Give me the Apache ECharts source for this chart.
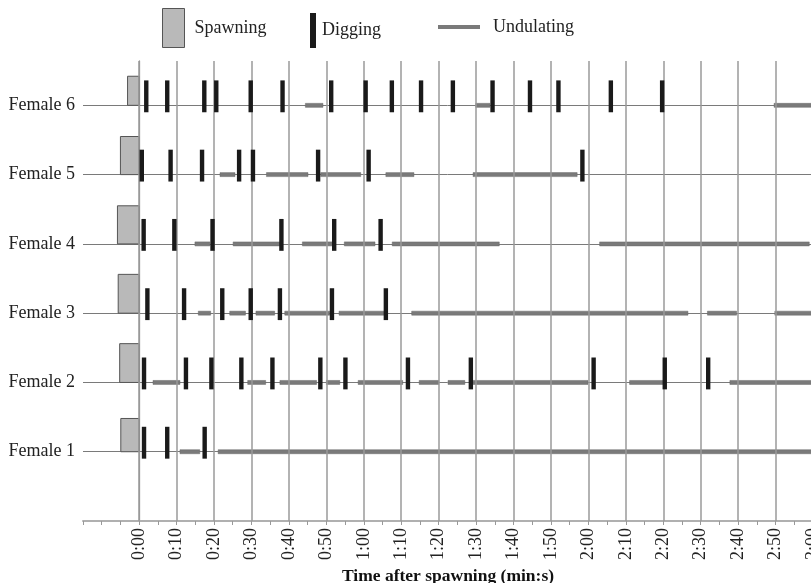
<!DOCTYPE html>
<html><head><meta charset="utf-8">
<script src="https://cdn.jsdelivr.net/npm/echarts@6/dist/echarts.min.js"></script>
<style>html,body{margin:0;padding:0;background:#fff}#c{width:811px;height:583px}</style>
</head><body><div id="c"></div>
<script>
// ---- data ----
const femaleNames = ['Female 1', 'Female 2', 'Female 3', 'Female 4', 'Female 5', 'Female 6'];
// spawning: duration (s, before time 0) and relative bar height per female
const spawnDuration = [4.9, 5.2, 5.6, 5.8, 5.0, 3.1];
const spawnHeight = [0.48, 0.56, 0.56, 0.55, 0.55, 0.42];
// digging events (s after spawning)
const digFemale1 = [1.3, 7.5, 17.5];
const digFemale2 = [1.3, 12.5, 19.3, 27.3, 35.6, 48.4, 55.1, 71.8, 88.6, 121.4, 140.4, 152];
const digFemale3 = [2.2, 12, 22.2, 29.8, 37.6, 51.5, 65.9];
const digFemale4 = [1.2, 9.4, 19.6, 38, 52.1, 64.5];
const digFemale5 = [0.7, 8.4, 16.8, 26.7, 30.4, 47.8, 61.3, 118.4];
const digFemale6 = [1.9, 7.5, 17.4, 20.6, 29.8, 38.3, 51.3, 60.5, 67.5, 75.3, 83.8, 94.4, 104.4, 112, 126, 139.7];
// undulating bouts [start, end] (s)
const undFemale1 = [[10.9, 16.2], [21.1, 180]];
const undFemale2 = [[3.7, 10.9], [29, 33.8], [37.6, 47.4], [50, 53.6], [58.5, 70.4], [74.8, 80.1], [82.5, 87], [89.2, 119.9], [131, 140.4], [157.8, 180]];
const undFemale3 = [[15.8, 19.1], [24.2, 28.4], [31.2, 36.2], [38.9, 50.9], [53.4, 65.6], [72.8, 146.6], [151.8, 159.6], [169.8, 180]];
const undFemale4 = [[14.9, 18.9], [25.1, 38], [43.6, 51.8], [54.8, 63], [67.6, 96.2], [123, 179]];
const undFemale5 = [[21.6, 25.6], [34, 45.1], [48.5, 59.2], [65.9, 73.4], [89.2, 117]];
const undFemale6 = [[44.4, 49.1], [89.9, 93.7], [169.6, 180]];
// x tick labels
const xTickValues = [0, 10, 20, 30, 40, 50, 60, 70, 80, 90, 100, 110, 120, 130, 140, 150, 160, 170, 180];
const xTickLabels = ['0:00', '0:10', '0:20', '0:30', '0:40', '0:50', '1:00', '1:10', '1:20', '1:30', '1:40', '1:50', '2:00', '2:10', '2:20', '2:30', '2:40', '2:50', '3:00'];
const rowValues = [1, 2, 3, 4, 5, 6];

// ---- build series data ----
const digs = [digFemale1, digFemale2, digFemale3, digFemale4, digFemale5, digFemale6];
const unds = [undFemale1, undFemale2, undFemale3, undFemale4, undFemale5, undFemale6];
const spawnData = spawnDuration.map((d, i) => [-d, 0, i + 1, spawnHeight[i]]);
const digData = [];
digs.forEach((arr, i) => arr.forEach(t => digData.push([t, i + 1])));
const undData = [];
unds.forEach((arr, i) => arr.forEach(b => undData.push([b[0], b[1], i + 1])));

const FONT = '"Liberation Serif", "DejaVu Serif", serif';
const chart = echarts.init(document.getElementById('c'), null, { renderer: 'canvas' });

function clipRect(params, shape) {
  return echarts.graphic.clipRectByRect(shape, {
    x: params.coordSys.x, y: params.coordSys.y,
    width: params.coordSys.width, height: params.coordSys.height
  });
}

const legendBase = {
  orient: 'horizontal', selectedMode: false, padding: 0,
  textStyle: { fontFamily: FONT, fontSize: 18, color: '#222' }
};

chart.setOption({
  animation: false,
  backgroundColor: '#fff',
  legend: [
    Object.assign({}, legendBase, {
      left: 162, top: 8, itemWidth: 22, itemHeight: 39,
      data: [{ name: 'Spawning', icon: 'rect' }],
      itemStyle: { color: '#b9b9b9', borderColor: '#555', borderWidth: 1 },
      textStyle: Object.assign({}, legendBase.textStyle, { padding: [0, 0, 0, 5] })
    }),
    Object.assign({}, legendBase, {
      left: 310, top: 13, itemWidth: 6, itemHeight: 35,
      data: [{ name: 'Digging', icon: 'rect' }],
      itemStyle: { color: '#1a1a1a', borderWidth: 0 },
      textStyle: Object.assign({}, legendBase.textStyle, { padding: [0, 0, 0, 1] })
    }),
    Object.assign({}, legendBase, {
      left: 438, top: 18, itemWidth: 42, itemHeight: 4,
      data: [{ name: 'Undulating', icon: 'rect' }],
      itemStyle: { color: '#7a7a7a', borderWidth: 0 },
      textStyle: Object.assign({}, legendBase.textStyle, { padding: [0, 0, 0, 8] })
    })
  ],
  grid: { left: 83, right: -2, top: 61, bottom: 62, containLabel: false, outerBoundsMode: 'none' },
  xAxis: {
    type: 'value', min: -15, max: 180, interval: 5,
    name: 'Time after spawning (min:s)', nameLocation: 'middle', nameGap: 43,
    nameTextStyle: { fontFamily: FONT, fontSize: 17.5, fontWeight: 'bold', color: '#111' },
    axisLine: { show: true, lineStyle: { color: '#b0b0b0', width: 2 } },
    axisTick: { show: true, length: 4, lineStyle: { color: '#999', width: 1 } },
    axisLabel: {
      rotate: 90, margin: 7, fontFamily: FONT, fontSize: 18, color: '#222',
      showMinLabel: true, showMaxLabel: true,
      formatter: v => { const i = xTickValues.indexOf(Math.round(v)); return (i >= 0 && Math.abs(v - Math.round(v)) < 1e-6) ? xTickLabels[i] : ''; }
    },
    splitLine: { show: false }
  },
  yAxis: {
    type: 'value', min: 0, max: 6.64, interval: 1,
    axisLine: { show: true, lineStyle: { color: '#999', width: 1.3 } },
    axisTick: { show: true, length: 5, customValues: rowValues, lineStyle: { color: '#777' } },
    axisLabel: {
      customValues: rowValues, margin: 8, fontFamily: FONT, fontSize: 18, color: '#222',
      formatter: v => femaleNames[Math.round(v) - 1] || ''
    },
    splitLine: { show: true, lineStyle: { color: '#7a7a7a', width: 1 } }
  },
  series: [
    {
      name: 'grid', type: 'line', data: [], silent: true, z: 1,
      markLine: {
        silent: true, symbol: 'none', animation: false,
        label: { show: false },
        lineStyle: { color: '#9a9a9a', width: 1.5, type: 'solid' },
        data: xTickValues.map(v => ({ xAxis: v }))
      }
    },
    {
      name: 'Undulating', type: 'custom', z: 3,
      itemStyle: { color: '#7a7a7a' },
      encode: { x: [0, 1], y: 2 },
      data: undData,
      renderItem: (params, api) => {
        const s = api.coord([api.value(0), api.value(2)]);
        const e = api.coord([api.value(1), api.value(2)]);
        const shape = clipRect(params, { x: s[0], y: s[1] - 2, width: e[0] - s[0], height: 4 });
        return shape && { type: 'rect', shape, style: { fill: '#7a7a7a', stroke: '#6a6a6a', lineWidth: 0.5 } };
      }
    },
    {
      name: 'Spawning', type: 'custom', z: 4,
      itemStyle: { color: '#b9b9b9', borderColor: '#555' },
      encode: { x: [0, 1], y: 2 },
      data: spawnData,
      renderItem: (params, api) => {
        const row = api.value(2);
        const tl = api.coord([api.value(0), row + api.value(3)]);
        const br = api.coord([api.value(1), row]);
        return { type: 'rect', shape: { x: tl[0], y: tl[1], width: br[0] - tl[0], height: br[1] - tl[1] },
          style: { fill: '#b9b9b9', stroke: '#555', lineWidth: 1 } };
      }
    },
    {
      name: 'Digging', type: 'custom', z: 5,
      itemStyle: { color: '#1a1a1a' },
      encode: { x: 0, y: 1 },
      data: digData,
      renderItem: (params, api) => {
        const top = api.coord([api.value(0), api.value(1) + 0.36]);
        const bot = api.coord([api.value(0), api.value(1) - 0.1]);
        return { type: 'rect', shape: { x: top[0] - 2.2, y: top[1], width: 4.4, height: bot[1] - top[1] },
          style: { fill: '#1a1a1a' } };
      }
    }
  ]
});
</script>
</body></html>
